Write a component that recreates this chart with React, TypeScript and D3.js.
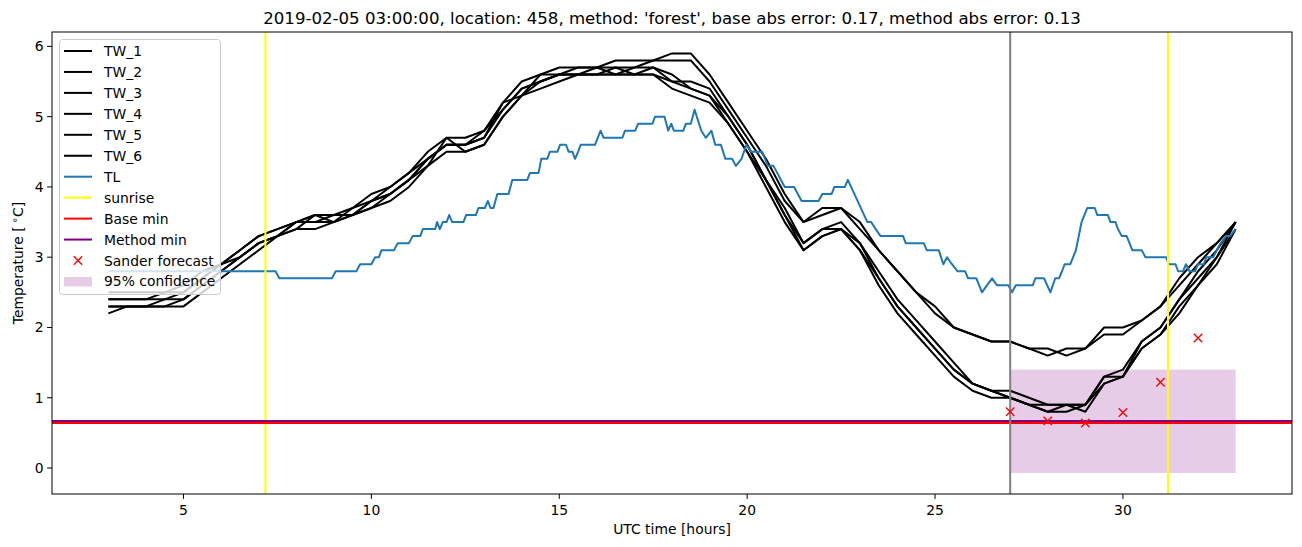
import React from "react";
import * as d3 from "d3";

const HOURS = [3,3.5,4,4.5,5,5.5,6,6.5,7,7.5,8,8.5,9,9.5,10,10.5,11,11.5,12,12.5,13,13.5,14,14.5,15,15.5,16,16.5,17,17.5,18,18.5,19,19.5,20,20.5,21,21.5,22,22.5,23,23.5,24,24.5,25,25.5,26,26.5,27,27.5,28,28.5,29,29.5,30,30.5,31,31.5,32,32.5,33];

const TW_1 = [2.4,2.4,2.4,2.4,2.5,2.7,2.9,3.1,3.3,3.4,3.5,3.6,3.5,3.7,3.9,4.0,4.2,4.5,4.7,4.7,4.8,5.2,5.5,5.6,5.7,5.7,5.7,5.8,5.8,5.8,5.9,5.9,5.6,5.2,4.8,4.4,3.9,3.5,3.7,3.7,3.5,3.1,2.8,2.5,2.3,2.0,1.9,1.8,1.8,1.7,1.7,1.6,1.7,2.0,2.0,2.1,2.3,2.7,3.0,3.2,3.5];
const TW_2 = [2.5,2.5,2.5,2.5,2.6,2.8,2.9,3.1,3.3,3.4,3.5,3.5,3.6,3.6,3.8,3.9,4.1,4.4,4.6,4.6,4.8,5.1,5.4,5.5,5.6,5.7,5.7,5.7,5.7,5.8,5.8,5.8,5.5,5.1,4.7,4.3,3.8,3.5,3.6,3.7,3.4,3.1,2.8,2.5,2.2,2.0,1.9,1.8,1.8,1.7,1.6,1.7,1.7,1.9,1.9,2.1,2.3,2.6,2.9,3.2,3.5];
const TW_3 = [2.3,2.3,2.3,2.4,2.4,2.6,2.8,3.0,3.2,3.3,3.4,3.6,3.6,3.6,3.7,3.9,4.1,4.4,4.6,4.6,4.7,5.1,5.4,5.5,5.6,5.6,5.6,5.6,5.7,5.7,5.5,5.5,5.4,5.0,4.6,4.1,3.6,3.2,3.4,3.4,3.2,2.8,2.4,2.1,1.8,1.5,1.2,1.1,1.1,1.0,0.9,0.9,0.9,1.3,1.3,1.8,2.0,2.4,2.8,3.1,3.5];
const TW_4 = [2.2,2.3,2.3,2.3,2.3,2.5,2.7,2.9,3.1,3.3,3.4,3.4,3.5,3.6,3.7,3.8,4.0,4.3,4.5,4.5,4.6,5.0,5.3,5.4,5.5,5.6,5.6,5.6,5.6,5.6,5.4,5.3,5.2,4.9,4.5,4.0,3.5,3.1,3.3,3.4,3.1,2.7,2.3,2.0,1.7,1.4,1.2,1.1,1.0,0.9,0.8,0.9,0.8,1.2,1.3,1.7,1.9,2.2,2.6,2.9,3.4];
const TW_5 = [2.3,2.3,2.3,2.3,2.4,2.6,2.8,3.0,3.2,3.3,3.5,3.5,3.5,3.6,3.8,3.9,4.1,4.3,4.7,4.5,4.6,5.0,5.3,5.5,5.6,5.6,5.6,5.7,5.6,5.6,5.5,5.4,5.3,4.9,4.5,4.1,3.6,3.1,3.3,3.4,3.1,2.6,2.2,1.9,1.6,1.3,1.1,1.0,1.0,0.9,0.8,0.8,0.9,1.2,1.3,1.7,1.9,2.3,2.6,3.0,3.4];
const TW_6 = [2.4,2.4,2.4,2.5,2.5,2.7,2.9,3.0,3.2,3.3,3.5,3.6,3.6,3.7,3.8,4.0,4.2,4.4,4.6,4.6,4.7,5.2,5.3,5.6,5.6,5.6,5.7,5.6,5.6,5.7,5.6,5.4,5.3,5.0,4.6,4.1,3.7,3.2,3.4,3.5,3.2,2.7,2.3,2.0,1.7,1.4,1.2,1.1,1.0,0.9,0.9,0.9,0.9,1.3,1.4,1.8,2.0,2.4,2.7,3.0,3.5];
const TW_SERIES = [TW_1, TW_2, TW_3, TW_4, TW_5, TW_6];
const TW_NAMES = ["TW_1", "TW_2", "TW_3", "TW_4", "TW_5", "TW_6"];

const TL_HOURS = [3.0,7.45,7.55,8.95,9.05,9.6,9.7,10.0,10.1,10.2,10.27,10.6,10.7,11.0,11.1,11.3,11.37,11.7,11.75,11.82,11.9,12.0,12.07,12.15,12.45,12.52,12.78,12.85,13.02,13.1,13.17,13.25,13.35,13.65,13.75,14.15,14.22,14.45,14.52,14.68,14.75,14.95,15.02,15.18,15.25,15.35,15.42,15.5,15.57,15.95,16.1,16.18,16.68,16.75,17.02,17.1,17.48,17.55,17.8,17.9,17.98,18.05,18.3,18.37,18.5,18.6,18.78,18.9,19.05,19.15,19.3,19.42,19.6,19.7,19.85,19.98,20.1,20.4,20.55,20.7,20.8,20.9,21.0,21.25,21.35,21.45,21.9,22.0,22.25,22.32,22.6,22.68,23.2,23.3,23.42,23.55,24.15,24.22,24.7,24.78,25.1,25.22,25.32,25.45,25.6,25.8,25.88,26.1,26.25,26.38,26.52,26.65,26.95,27.05,27.15,27.6,27.67,27.9,28.07,28.2,28.3,28.38,28.45,28.6,28.75,28.9,29.05,29.25,29.32,29.6,29.67,29.8,29.87,29.97,30.1,30.25,30.5,30.6,31.15,31.22,31.4,31.47,31.6,31.68,31.77,31.92,32.0,32.15,32.22,32.4,32.5,32.6,32.75,32.85,33.0];
const TL_VALUES = [2.8,2.8,2.7,2.7,2.8,2.8,2.9,2.9,3.0,3.0,3.1,3.1,3.2,3.2,3.3,3.3,3.4,3.4,3.5,3.4,3.5,3.5,3.6,3.5,3.5,3.6,3.6,3.7,3.7,3.8,3.7,3.7,3.9,3.9,4.1,4.1,4.2,4.2,4.4,4.4,4.5,4.5,4.6,4.6,4.5,4.5,4.4,4.5,4.6,4.6,4.8,4.7,4.7,4.8,4.8,4.9,4.9,5.0,5.0,4.8,4.9,4.8,4.8,4.9,4.9,5.1,4.8,4.7,4.8,4.6,4.6,4.4,4.4,4.3,4.4,4.6,4.5,4.5,4.3,4.3,4.2,4.1,4.0,4.0,3.9,3.8,3.8,3.9,3.9,4.0,4.0,4.1,3.5,3.5,3.4,3.3,3.3,3.2,3.2,3.1,3.1,2.9,3.0,2.9,2.8,2.8,2.7,2.7,2.5,2.6,2.7,2.6,2.6,2.5,2.6,2.6,2.7,2.7,2.5,2.7,2.7,2.8,2.9,2.9,3.1,3.5,3.7,3.7,3.6,3.6,3.5,3.5,3.4,3.3,3.3,3.1,3.1,3.0,3.0,2.9,2.9,2.8,2.8,2.9,2.8,2.8,2.9,2.9,3.0,3.0,3.1,3.2,3.3,3.3,3.4];

const SANDER_HOURS = [27, 28, 29, 30, 31, 32];
const SANDER_VALUES = [0.8, 0.67, 0.64, 0.79, 1.22, 1.85];

const SUNRISE_HOURS = [7.18, 31.2];
const NOW_HOUR = 27;
const BASE_MIN = 0.64;
const METHOD_MIN = 0.67;
const CONF_HOURS = [27, 33];
const CONF_LOW = -0.07;
const CONF_HIGH = 1.4;

const X_TICKS = [5, 10, 15, 20, 25, 30];
const Y_TICKS = [0, 1, 2, 3, 4, 5, 6];

const TITLE = "2019-02-05 03:00:00, location: 458, method: 'forest', base abs error: 0.17, method abs error: 0.13";

const W = 1302, H = 547;
const L = 52, R = 1292, T = 32, B = 494;
const FONT = "DejaVu Sans, sans-serif";

export default function App() {
  const x = d3.scaleLinear().domain([1.5, 34.5]).range([L, R]);
  const y = d3.scaleLinear().domain([-0.37, 6.205]).range([B, T]);
  const line = d3.line<[number, number]>().x((d) => x(d[0])).y((d) => y(d[1]));

  const twPaths = TW_SERIES.map((s) => line(HOURS.map((h, i) => [h, s[i]]) as [number, number][]) || "");
  const tlPath = line(TL_HOURS.map((h, i) => [h, TL_VALUES[i]]) as [number, number][]) || "";

  const xMark = (cx: number, cy: number, r: number, key: string) => (
    <path key={key} d={`M${cx - r},${cy - r}L${cx + r},${cy + r}M${cx - r},${cy + r}L${cx + r},${cy - r}`} stroke="red" strokeWidth={1.4} fill="none" />
  );

  const legendItems: { label: string; kind: string; color: string }[] = [
    ...TW_NAMES.map((n) => ({ label: n, kind: "line", color: "black" })),
    { label: "TL", kind: "line", color: "#1f77b4" },
    { label: "sunrise", kind: "line", color: "yellow" },
    { label: "Base min", kind: "line", color: "red" },
    { label: "Method min", kind: "line", color: "purple" },
    { label: "Sander forecast", kind: "marker", color: "red" },
    { label: "95% confidence", kind: "patch", color: "purple" },
  ];

  return (
    <svg width={W} height={H} style={{ position: "absolute", left: 0, top: 0, background: "white" }} fontFamily={FONT}>
      <rect x={0} y={0} width={W} height={H} fill="white" />
      <defs>
        <clipPath id="plotclip">
          <rect x={L} y={T} width={R - L} height={B - T} />
        </clipPath>
      </defs>
      <g clipPath="url(#plotclip)">
        <rect
          x={x(CONF_HOURS[0])}
          y={y(CONF_HIGH)}
          width={x(CONF_HOURS[1]) - x(CONF_HOURS[0])}
          height={y(CONF_LOW) - y(CONF_HIGH)}
          fill="purple"
          fillOpacity={0.2}
        />
        {twPaths.map((p, i) => (
          <path key={"tw" + i} d={p} fill="none" stroke="black" strokeWidth={2} strokeLinejoin="round" />
        ))}
        <path d={tlPath} fill="none" stroke="#1f77b4" strokeWidth={2} strokeLinejoin="round" />
        {SUNRISE_HOURS.map((h, i) => (
          <line key={"sr" + i} x1={x(h)} x2={x(h)} y1={T} y2={B} stroke="yellow" strokeWidth={2} />
        ))}
        <line x1={L} x2={R} y1={y(BASE_MIN)} y2={y(BASE_MIN)} stroke="red" strokeWidth={2} />
        <line x1={L} x2={R} y1={y(METHOD_MIN)} y2={y(METHOD_MIN)} stroke="purple" strokeWidth={2} />
        <line x1={x(NOW_HOUR)} x2={x(NOW_HOUR)} y1={T} y2={B} stroke="gray" strokeWidth={2} />
        {SANDER_HOURS.map((h, i) => xMark(x(h), y(SANDER_VALUES[i]), 4.2, "sx" + i))}
      </g>
      <rect x={L} y={T} width={R - L} height={B - T} fill="none" stroke="black" strokeWidth={1} />
      {X_TICKS.map((t) => (
        <g key={"xt" + t}>
          <line x1={x(t)} x2={x(t)} y1={B} y2={B + 4.9} stroke="black" strokeWidth={1} />
          <text x={x(t)} y={B + 20.5} textAnchor="middle" fontSize={13.9} fill="black">{t}</text>
        </g>
      ))}
      {Y_TICKS.map((t) => (
        <g key={"yt" + t}>
          <line x1={L - 4.9} x2={L} y1={y(t)} y2={y(t)} stroke="black" strokeWidth={1} />
          <text x={L - 8.5} y={y(t) + 5} textAnchor="end" fontSize={13.9} fill="black">{t}</text>
        </g>
      ))}
      <text x={(L + R) / 2} y={23.5} textAnchor="middle" fontSize={16.6} fill="black">{TITLE}</text>
      <text x={(L + R) / 2} y={534} textAnchor="middle" fontSize={13.9} fill="black">UTC time [hours]</text>
      <text transform={`translate(23,${(T + B) / 2}) rotate(-90)`} textAnchor="middle" fontSize={13.9} fill="black">
        Temperature [<tspan fontSize={10} dy={-5}>{" \u2218"}</tspan><tspan dy={5}>C]</tspan>
      </text>
      <g>
        <rect x={59.5} y={39.5} width={161} height={255} rx={3} fill="white" fillOpacity={0.8} stroke="#cccccc" strokeWidth={1} />
        {legendItems.map((it, i) => {
          const cy = 51 + i * 20.95;
          let handle;
          if (it.kind === "line") {
            handle = <line x1={64} x2={92} y1={cy} y2={cy} stroke={it.color} strokeWidth={2} />;
          } else if (it.kind === "marker") {
            handle = xMark(78, cy, 4.2, "lm");
          } else {
            handle = <rect x={64} y={cy - 4.5} width={28} height={9.5} fill={it.color} fillOpacity={0.2} />;
          }
          return (
            <g key={"lg" + i}>
              {handle}
              <text x={104} y={cy + 5} fontSize={13.9} fill="black">{it.label}</text>
            </g>
          );
        })}
      </g>
    </svg>
  );
}
